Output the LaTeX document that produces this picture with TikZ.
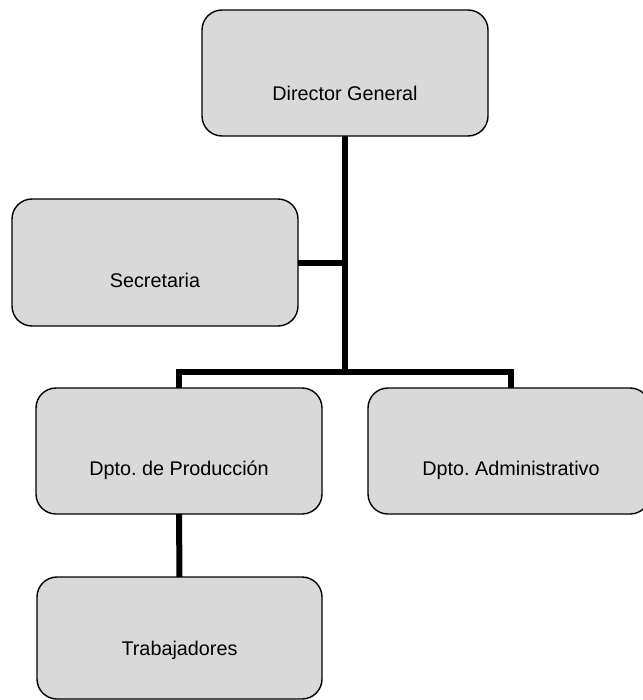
\documentclass[tikz,border=0pt]{standalone}
\usepackage{fontspec}
\setmainfont{Liberation Sans}
\frenchspacing
\definecolor{boxgray}{RGB}{217,217,217}
\tikzset{
  orgbox/.style={draw=black, line width=1.4pt, fill=boxgray, rounded corners=20pt,
    inner sep=0pt, outer sep=0pt, minimum width=286pt, minimum height=126pt},
  boxtext/.style={font=\fontsize{19.8}{24}\selectfont, inner sep=0pt},
  link/.style={line width=6pt, line join=miter}
}
\begin{document}
\begin{tikzpicture}[x=1pt,y=-1pt]
\useasboundingbox (0,0) rectangle (642,700);
\node[orgbox, label={[boxtext, yshift=-20pt]center:Director General}] (dg) at (345,73) {};
\node[orgbox, minimum height=127pt, label={[boxtext, yshift=-17.5pt]center:Secretaria}] (sec) at (155,262.5) {};
\node[orgbox, label={[boxtext, yshift=-19pt]center:Dpto.\ de Producción}] (prod) at (179,451) {};
\node[orgbox, minimum width=282pt, label={[boxtext, yshift=-19pt, xshift=2pt]center:Dpto.\ Administrativo}] (adm) at (509,451) {};
\node[orgbox, minimum width=285pt, minimum height=122pt, label={[boxtext, yshift=-12pt]center:Trabajadores}] (trab) at (179.5,638) {};
\coordinate (hub) at (345,372);
\coordinate (secj) at (345,262.5);
\draw[link] (dg.south) -- (hub);
\draw[link] (sec.east) -- (secj);
\draw[link] (prod.north) -- (179,372) -- (511,372) -- (511,388);
\draw[link] (prod.south) -- (trab.north);
\end{tikzpicture}
\end{document}
